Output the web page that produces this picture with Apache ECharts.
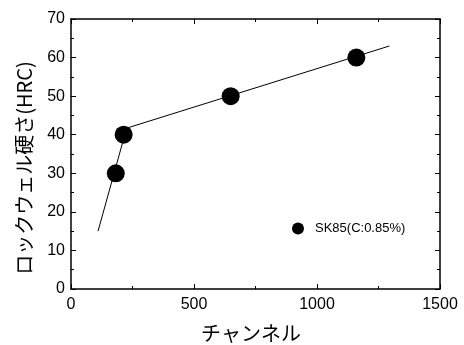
<!DOCTYPE html>
<html>
<head>
<meta charset="utf-8">
<script src="https://cdn.jsdelivr.net/npm/echarts@6/dist/echarts.min.js"></script>
<style>html,body{margin:0;padding:0;background:#fff;}#c{width:464px;height:345px;}</style>
</head>
<body>
<div id="c"></div>
<script>
// data
const seriesName = 'SK85(C:0.85%)';
const channel = [182, 214, 649, 1160];
const hardness = [30, 40, 50, 60];
const fitX = [110, 226, 1294];
const fitY = [15, 41.7, 63];
const xTitle = 'チャンネル';
const yTitle = 'ロックウェル硬さ(HRC)';

const numFont = '"Liberation Sans", Arial, "Noto Sans CJK JP", sans-serif';
const jpFont = '"Noto Sans CJK JP", sans-serif';

const chart = echarts.init(document.getElementById('c'), null, {renderer: 'canvas'});
const scatterData = channel.map((x, i) => [x, hardness[i]]);
const fitData = fitX.map((x, i) => [x, fitY[i]]);

function axisCommon() {
  return {
    axisLine: {show: true, onZero: false, lineStyle: {color: '#000', width: 1.5}},
    axisTick: {show: true, inside: true, length: 5, lineStyle: {color: '#000', width: 1}},
    minorTick: {show: true, splitNumber: 2, length: 3, lineStyle: {color: '#000', width: 1}},
    splitLine: {show: false}
  };
}
const plain = v => String(v);

chart.setOption({
  animation: false,
  backgroundColor: '#fff',
  grid: {left: 71, right: 24, top: 19, bottom: 56, containLabel: false},
  xAxis: [
    Object.assign({
      type: 'value', min: 0, max: 1500, interval: 500, position: 'bottom',
      axisLabel: {color: '#000', fontSize: 16, fontFamily: numFont, margin: 8, formatter: plain}
    }, axisCommon()),
    Object.assign({
      type: 'value', min: 0, max: 1500, interval: 500, position: 'top',
      axisLabel: {show: false}
    }, axisCommon())
  ],
  yAxis: [
    Object.assign({
      type: 'value', min: 0, max: 70, interval: 10, position: 'left',
      axisLabel: {color: '#000', fontSize: 16, fontFamily: numFont, margin: 6, formatter: plain}
    }, axisCommon()),
    Object.assign({
      type: 'value', min: 0, max: 70, interval: 10, position: 'right',
      axisLabel: {show: false}
    }, axisCommon())
  ],
  legend: {
    data: [{name: seriesName, icon: 'circle'}],
    left: 292, top: 222, padding: 0,
    itemWidth: 12, itemHeight: 12,
    itemStyle: {opacity: 1},
    textStyle: {color: '#000', fontSize: 13, fontFamily: numFont, padding: [0, 0, 0, 6]}
  },
  graphic: [
    {type: 'text', x: 251, y: 333,
     style: {text: xTitle, font: '20px ' + jpFont, fill: '#000', textAlign: 'center', textVerticalAlign: 'middle'}},
    {type: 'text', x: 24, y: 168, rotation: Math.PI / 2,
     style: {text: yTitle, font: '20px ' + jpFont, fill: '#000', textAlign: 'center', textVerticalAlign: 'middle'}}
  ],
  series: [
    {type: 'line', name: 'fit', data: fitData, symbol: 'none', lineStyle: {color: '#000', width: 1}, z: 2, silent: true},
    {type: 'scatter', name: seriesName, data: scatterData, symbol: 'circle', symbolSize: 18, itemStyle: {color: '#000', opacity: 1}, z: 3}
  ]
});
</script>
</body>
</html>
